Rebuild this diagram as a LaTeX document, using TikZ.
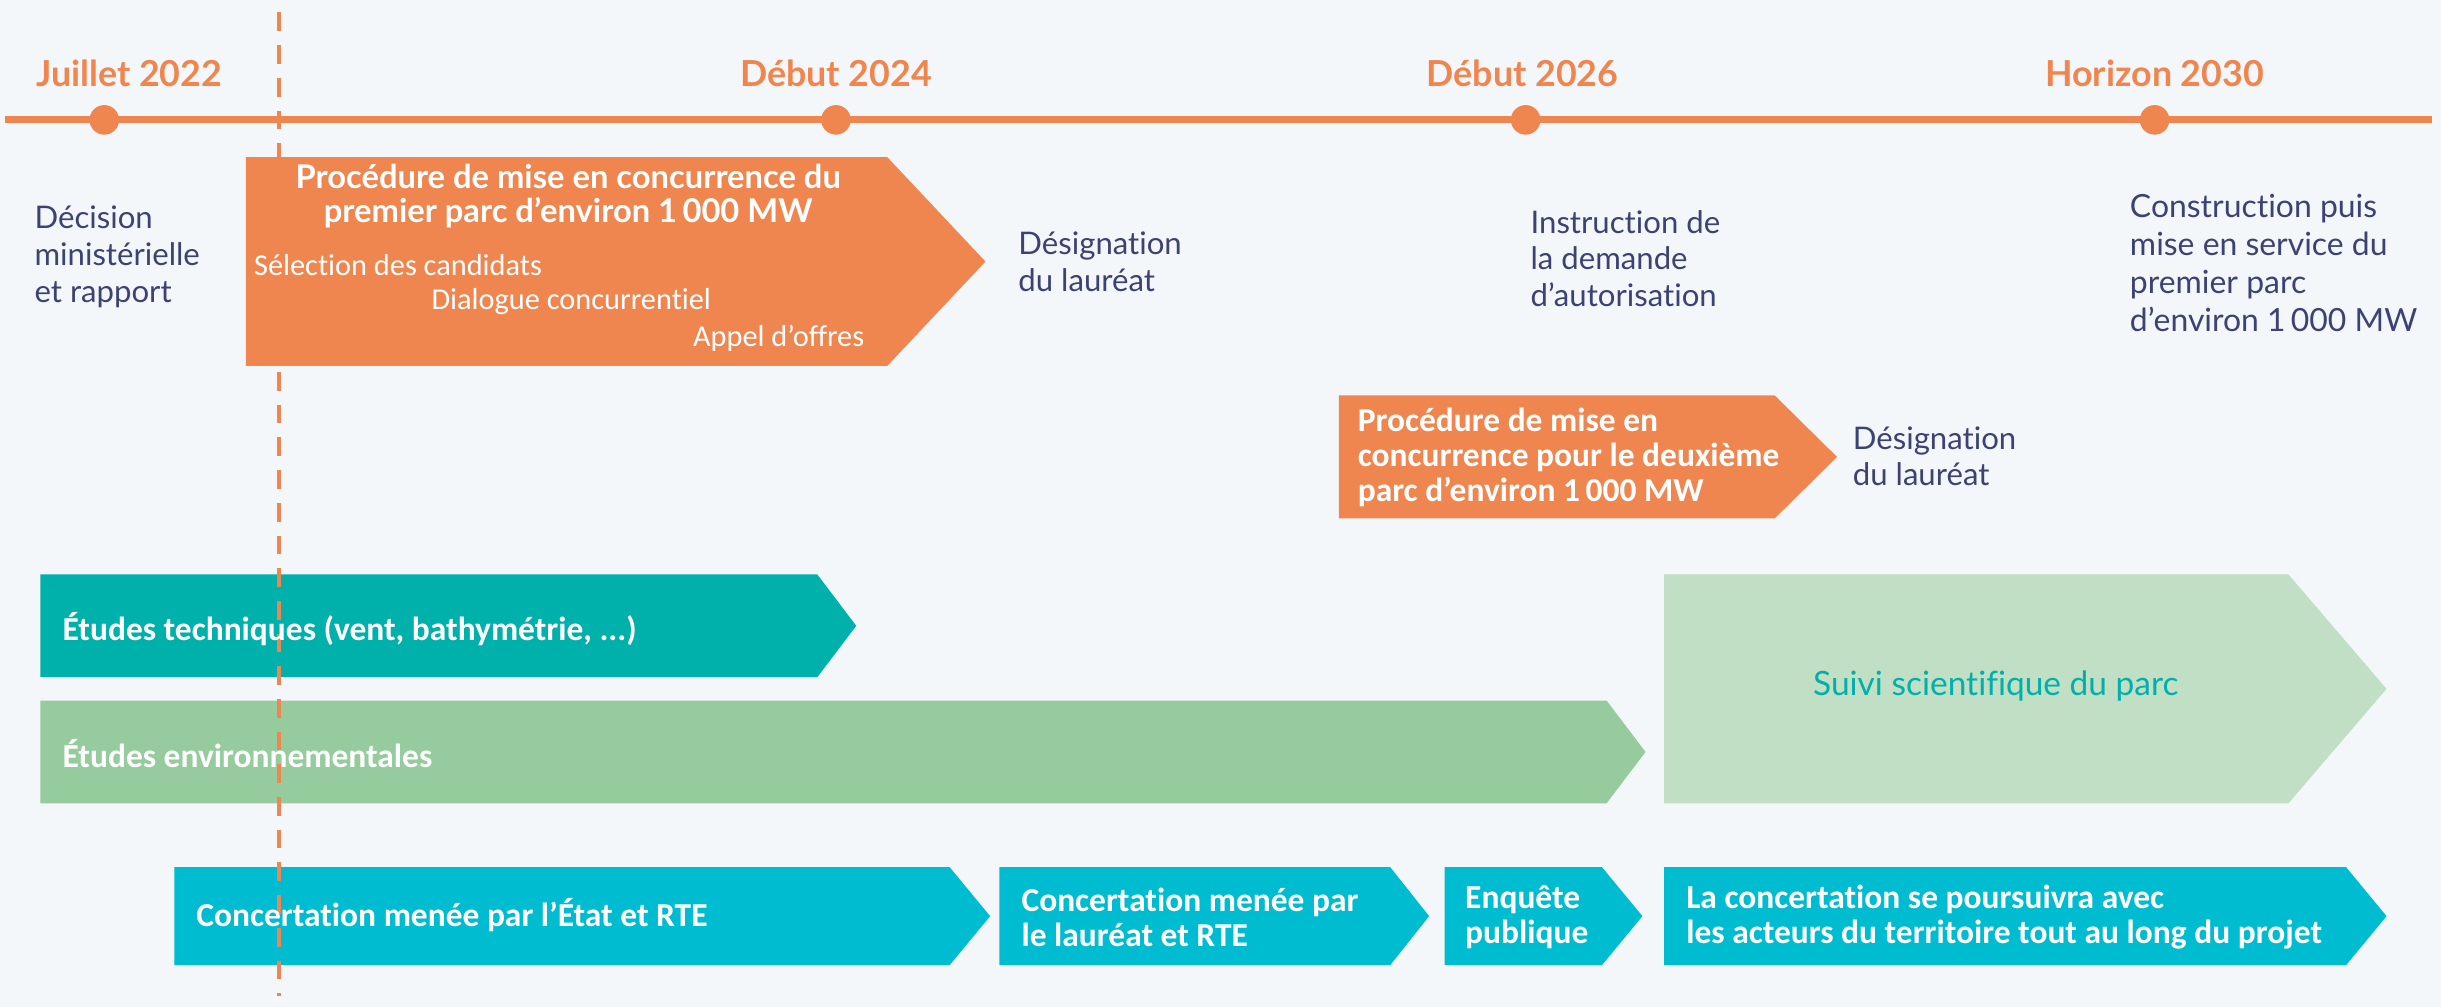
\documentclass[tikz,border=0pt]{standalone}
\usepackage{fontspec}
\setmainfont{Lato}[Ligatures=NoCommon]
\newfontfamily\boxfont{Carlito}[Ligatures=NoCommon]
\begin{document}
\definecolor{bgcol}{HTML}{F3F7FA}
\definecolor{orng}{HTML}{EF864F}
\definecolor{navy}{HTML}{3C4272}
\definecolor{teal}{HTML}{00B0AB}
\definecolor{envgreen}{HTML}{95CB9D}
\definecolor{pale}{HTML}{C0DFC4}
\definecolor{cyanbox}{HTML}{00BCD0}
\newcommand\chevron[6]{% colour, left, top, right, bottom, tip
  \fill[#1] (#2,#3) -- (#4,#3) -- (#6,{(#3+#5)/2}) -- (#4,#5) -- (#2,#5) -- cycle;}
\begin{tikzpicture}[x=1pt,y=-1pt,
  date/.style={inner sep=0pt,text=orng,font=\fontsize{23}{26}\selectfont\bfseries},
  note/.style={inner sep=0pt,anchor=west,align=left,text=navy,font=\fontsize{20}{23.5}\selectfont},
  boxtext/.style={inner sep=0pt,anchor=west,align=left,text=white,font=\boxfont\fontsize{21.5}{22.5}\selectfont\bfseries},
  titletext/.style={inner sep=0pt,align=center,text=white,font=\fontsize{21}{22}\selectfont\bfseries},
  substep/.style={inner sep=0pt,anchor=west,text=white,font=\boxfont\fontsize{19.5}{21}\selectfont},
  dot/.style={circle,fill=orng,inner sep=0pt,minimum size=19pt}]
\useasboundingbox (0,0) rectangle (1568,647);
\fill[bgcol] (0,0) rectangle (1568,647);

% timeline
\draw[orng,line width=4.5pt] (3,77) -- (1562,77);
\node[dot] (d22) at (67,77) {};
\node[dot] (d24) at (537,77) {};
\node[dot] (d26) at (980,77) {};
\node[dot] (d30) at (1384,77) {};
\node[date] (l22) at (83,47) {Juillet 2022};
\node[date] (l24) at (537,47) {Début 2024};
\node[date] (l26) at (978,47) {Début 2026};
\node[date] (l30) at (1384,47) {Horizon 2030};

% phases
\chevron{orng}{158}{101}{570}{235}{633}
\chevron{orng}{860}{254}{1140}{333}{1180}
\chevron{teal}{26}{369}{525}{435}{550}
\chevron{envgreen}{26}{450}{1032}{516}{1057}
\chevron{pale}{1069}{369}{1470}{516}{1533}
\chevron{cyanbox}{112}{557}{610}{620}{636}
\chevron{cyanbox}{642}{557}{893}{620}{918}
\chevron{cyanbox}{928}{557}{1029}{620}{1055}
\chevron{cyanbox}{1069}{557}{1507}{620}{1533}

% dashed marker
\draw[orng,line width=2.5pt,dash pattern=on 12pt off 9pt] (179,8) -- (179,640);

% texts in the orange phases
\node[titletext] (p1) at (365,126) {Procédure de mise en concurrence du\\premier parc d’environ 1\,000 MW};
\node[substep] (s1) at (163,170) {Sélection des candidats};
\node[substep] (s2) at (277,194) {Dialogue concurrentiel};
\node[substep] (s3) at (445,217) {Appel d’offres};
\node[boxtext] (p2) at (872,294) {Procédure de mise en\\concurrence pour le deuxième\\parc d’environ 1\,000 MW};

% notes under the timeline
\node[note] (n1) at (22,165) {Décision\\ministérielle\\et rapport};
\node[note] (n2) at (654,168) {Désignation\\du lauréat};
\node[note] (n3) at (983,166) {Instruction de\\la demande\\d’autorisation};
\node[note,font=\fontsize{20.5}{24.3}\selectfont] (n4) at (1368,169) {Construction puis\\mise en service du\\premier parc\\d’environ 1\,000 MW};
\node[note] (n5) at (1190,293) {Désignation\\du lauréat};

% studies
\node[boxtext] (t1) at (40,404) {Études techniques (vent, bathymétrie, ...)};
\node[boxtext] (t2) at (40,484) {Études environnementales};
\node[inner sep=0pt,text=teal,font=\fontsize{21.5}{24}\selectfont] (t3) at (1282,441) {Suivi scientifique du parc};

% consultation
\node[boxtext] (c1) at (126,588) {Concertation menée par l’État et RTE};
\node[boxtext] (c2) at (656,589) {Concertation menée par\\le lauréat et RTE};
\node[boxtext] (c3) at (941,589) {Enquête\\publique};
\node[boxtext] (c4) at (1083,589) {La concertation se poursuivra avec\\les acteurs du territoire tout au long du projet};
\end{tikzpicture}
\end{document}
